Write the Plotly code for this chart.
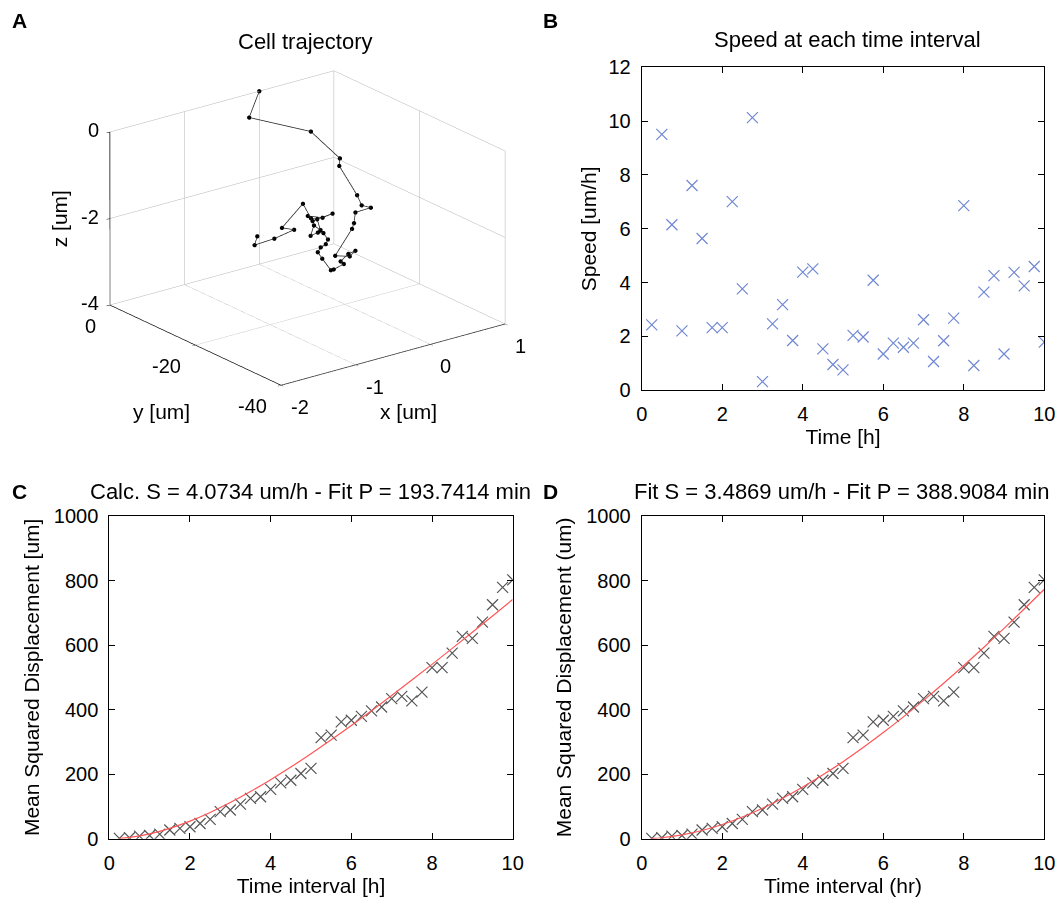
import plotly.graph_objects as go

# ---------------- data ----------------
traj_x = [0, -0.17, 0.52, 0.82, 0.78, 0.91, 0.89, 0.98, 0.74, 0.62, 0.54, 0.17, 0.36, 0.40,
          0.26, 0.13, 0.11, -0.09, -0.15, -0.28, -0.35, -0.34, -0.30, -0.33, -0.41, -0.51,
          -0.63, -0.61, -0.56, -0.62, -0.73, -0.81, -0.71, -0.59, -0.91, -1.10, -1.40, -1.30,
          -1.62, -1.95, -1.94]
traj_y = [0, -0.61, -2.99, -4.52, -5.08, -6.98, -8.39, -8.97, -9.55, -11.31, -12.25, -14.78,
          -14.86, -15.48, -16.27, -16.74, -17.83, -18.96, -19.35, -19.59, -19.78, -20.29,
          -20.78, -21.80, -22.14, -22.58, -22.98, -23.42, -24.07, -24.34, -24.80, -25.47,
          -27.18, -27.41, -28.33, -29.39, -29.73, -30.82, -31.79, -32.94, -33.39]
traj_z = [0, -0.50, -1.04, -1.73, -1.86, -2.51, -2.67, -2.74, -2.71, -2.82, -2.87, -3.20,
          -3.30, -3.16, -3.13, -3.22, -3.22, -3.20, -3.17, -2.83, -2.64, -2.51, -2.43, -2.26,
          -2.06, -1.98, -1.98, -1.73, -1.83, -1.54, -1.44, -1.32, -1.33, -1.28, -1.26, -0.72,
          -1.12, -1.16, -1.17, -1.11, -0.89]
x_ticks3d = [-2, -1, 0, 1]
y_ticks3d = [-40, -20, 0]
z_ticks3d = [-4, -2, 0]

time_h = [0.25, 0.5, 0.75, 1.0, 1.25, 1.5, 1.75, 2.0, 2.25, 2.5, 2.75, 3.0, 3.25, 3.5, 3.75,
          4.0, 4.25, 4.5, 4.75, 5.0, 5.25, 5.5, 5.75, 6.0, 6.25, 6.5, 6.75, 7.0, 7.25, 7.5,
          7.75, 8.0, 8.25, 8.5, 8.75, 9.0, 9.25, 9.5, 9.75, 10.0]
speed = [2.43, 9.51, 6.15, 2.21, 7.61, 5.64, 2.33, 2.33, 7.01, 3.77, 10.13, 0.32, 2.47, 3.18,
         1.85, 4.39, 4.51, 1.54, 0.96, 0.76, 2.04, 1.98, 4.09, 1.35, 1.75, 1.60, 1.75, 2.62,
         1.07, 1.84, 2.68, 6.86, 0.92, 3.65, 4.26, 1.35, 4.38, 3.88, 4.60, 1.79]

msd = [1, 3, 8, 10, 14, 27, 32, 37, 47, 60, 84, 89, 107, 125, 130, 153, 173, 181, 202, 218,
       313, 321, 362, 367, 379, 396, 408, 434, 441, 427, 454, 530, 530, 575, 627, 621, 671,
       725, 779, 802]

fit_t = [0.25, 0.5, 1.0, 1.5, 2.0, 2.5, 3.0, 3.5, 4.0, 4.5, 5.0, 5.5, 6.0, 6.5, 7.0, 7.5,
         8.0, 8.5, 9.0, 9.5, 10.0]
fit_c = [1.0, 3.9, 15.0, 32.2, 54.5, 81.4, 112.1, 146.1, 182.9, 222.1, 263.3, 306.4, 350.9,
         396.7, 443.7, 491.6, 540.3, 589.7, 639.7, 690.2, 741.2]
fit_d = [0.75, 2.96, 11.6, 25.4, 44.0, 67.1, 94.3, 125.4, 160.0, 197.9, 238.8, 282.6, 328.9,
         377.6, 428.6, 481.7, 536.7, 593.4, 651.8, 711.7, 772.9]

title_a = "Cell trajectory"
title_b = "Speed at each time interval"
title_c = "Calc. S = 4.0734 um/h - Fit P = 193.7414 min"
title_d = "Fit S = 3.4869 um/h - Fit P = 388.9084 min"

FONT = "Liberation Sans, Arial, sans-serif"
W, H = 1060, 900
BLUE = "#7088d4"
GREY = "#555555"
RED = "#ff5555"

fig = go.Figure()

# ---------------- panel A (3D) ----------------
fig.add_trace(go.Scatter3d(
    x=traj_x, y=traj_y, z=traj_z, mode="lines+markers",
    line=dict(color="#222222", width=1.5),
    marker=dict(color="black", size=2.5, symbol="circle"),
    showlegend=False, scene="scene"))

# ---------------- panel B ----------------
fig.add_trace(go.Scatter(
    x=time_h, y=speed, mode="markers",
    marker=dict(symbol="x-thin-open", size=11, color=BLUE, line=dict(color=BLUE, width=1.2)),
    xaxis="x", yaxis="y", showlegend=False))

# ---------------- panel C ----------------
fig.add_trace(go.Scatter(
    x=time_h, y=msd, mode="markers",
    marker=dict(symbol="x-thin-open", size=11, color=GREY, line=dict(color=GREY, width=1.2)),
    xaxis="x2", yaxis="y2", showlegend=False))
fig.add_trace(go.Scatter(
    x=fit_t, y=fit_c, mode="lines", line=dict(color=RED, width=1.2, shape="spline"),
    xaxis="x2", yaxis="y2", showlegend=False))

# ---------------- panel D ----------------
fig.add_trace(go.Scatter(
    x=time_h, y=msd, mode="markers",
    marker=dict(symbol="x-thin-open", size=11, color=GREY, line=dict(color=GREY, width=1.2)),
    xaxis="x3", yaxis="y3", showlegend=False))
fig.add_trace(go.Scatter(
    x=fit_t, y=fit_d, mode="lines", line=dict(color=RED, width=1.2, shape="spline"),
    xaxis="x3", yaxis="y3", showlegend=False))


def px_x(p):
    return p / W


def px_y(p):
    return 1 - p / H


def ax2d(domain, rng, dtick, title, standoff):
    return dict(
        domain=domain, range=rng, dtick=dtick, tick0=0,
        showline=True, linecolor="black", linewidth=1, mirror="ticks",
        ticks="inside", ticklen=6, tickcolor="black", tickwidth=1,
        showgrid=False, zeroline=False,
        tickfont=dict(family=FONT, size=20, color="black"),
        ticklabelstandoff=6,
        title=dict(text=title, font=dict(family=FONT, size=21, color="black"),
                   standoff=standoff),
        automargin=False, fixedrange=True)


xb = [px_x(641.7), px_x(1044.3)]
yb = [px_y(390.3), px_y(67.3)]
xc = [px_x(109.3), px_x(512.7)]
ycd = [px_y(838.7), px_y(516.0)]

layout = dict(
    width=W, height=H, margin=dict(l=0, r=0, t=0, b=0),
    paper_bgcolor="white", plot_bgcolor="white",
    font=dict(family=FONT, color="black"),
    xaxis=ax2d(xb, [0, 10], 2, "Time [h]", 4),
    yaxis=ax2d(yb, [0, 12], 2, "Speed [um/h]", 6),
    xaxis2=ax2d(xc, [0, 10], 2, "Time interval [h]", 4),
    yaxis2=ax2d(ycd, [0, 1000], 200, "Mean Squared Displacement [um]", 8),
    xaxis3=ax2d(xb, [0, 10], 2, "Time interval (hr)", 4),
    yaxis3=ax2d(ycd, [0, 1000], 200, "Mean Squared Displacement (um)", 8),
)
layout["xaxis"]["anchor"] = "y"
layout["yaxis"]["anchor"] = "x"
layout["xaxis2"]["anchor"] = "y2"
layout["yaxis2"]["anchor"] = "x2"
layout["xaxis3"]["anchor"] = "y3"
layout["yaxis3"]["anchor"] = "x3"

ax3 = dict(showbackground=False, gridcolor="#b4b4b4", gridwidth=1,
           showline=True, linecolor="black", linewidth=1.5,
           zeroline=False, ticks="outside", ticklen=4, tickcolor="black",
           showticklabels=False, title=dict(text=""),
           showspikes=False)

# tick labels / axis titles of the 3D box as scene annotations (horizontal text)
tf = dict(family=FONT, size=20, color="black")
s_ann = []
for v in z_ticks3d:
    s_ann.append(dict(x=-2, y=0, z=v, text=str(v), showarrow=False, xanchor="right",
                      yanchor="middle", xshift=-9, yshift=2, font=tf))
for v in y_ticks3d:
    s_ann.append(dict(x=-2, y=v, z=-4, text=str(v), showarrow=False, xanchor="right",
                      yanchor="middle", xshift=-12, yshift=-21, font=tf))
for v in x_ticks3d:
    s_ann.append(dict(x=v, y=-40, z=-4, text=str(v), showarrow=False, xanchor="left",
                      yanchor="middle", xshift=8, yshift=-22, font=tf))
lf = dict(family=FONT, size=21, color="black")
s_ann.append(dict(x=-2, y=0, z=-2, text="z [um]", showarrow=False, textangle=-90,
                  xanchor="center", yanchor="middle", xshift=-50, font=lf))
s_ann.append(dict(x=-2, y=-20, z=-4, text="y [um]", showarrow=False,
                  xanchor="center", yanchor="middle", xshift=-34, yshift=-66, font=lf))
s_ann.append(dict(x=-0.5, y=-40, z=-4, text="x [um]", showarrow=False,
                  xanchor="center", yanchor="middle", xshift=15, yshift=-57, font=lf))

k = 1.5
d = 1.6
layout["scene"] = dict(
    domain=dict(x=[0.03, 0.55], y=[px_y(416), px_y(40)]),
    xaxis=dict(ax3, range=[-2, 1], tickvals=x_ticks3d),
    yaxis=dict(ax3, range=[-40, 0], tickvals=y_ticks3d),
    zaxis=dict(ax3, range=[-4, 0], tickvals=z_ticks3d),
    aspectmode="manual", aspectratio=dict(x=k, y=k, z=0.657 * k),
    camera=dict(projection=dict(type="orthographic"),
                eye=dict(x=-0.567 * d, y=-0.742 * d, z=0.358 * d),
                up=dict(x=0, y=0, z=1), center=dict(x=0, y=0, z=0)),
    bgcolor="rgba(0,0,0,0)",
    annotations=s_ann,
)

annots = []
for txt, x, y in [("A", 10, 20), ("B", 541, 20), ("C", 10, 491), ("D", 541, 491)]:
    annots.append(dict(text="<b>%s</b>" % txt, x=px_x(x), y=px_y(y), xref="paper",
                       yref="paper", xanchor="left", yanchor="middle", showarrow=False,
                       font=dict(family=FONT, size=21, color="black")))
for txt, x, y in [(title_a, 305, 42), (title_b, 847, 40), (title_c, 310, 492),
                  (title_d, 841, 492)]:
    annots.append(dict(text=txt, x=px_x(x), y=px_y(y), xref="paper", yref="paper",
                       xanchor="center", yanchor="middle", showarrow=False,
                       font=dict(family=FONT, size=22, color="black")))
layout["annotations"] = annots

fig.update_layout(**layout)
fig.write_html("out.html")
